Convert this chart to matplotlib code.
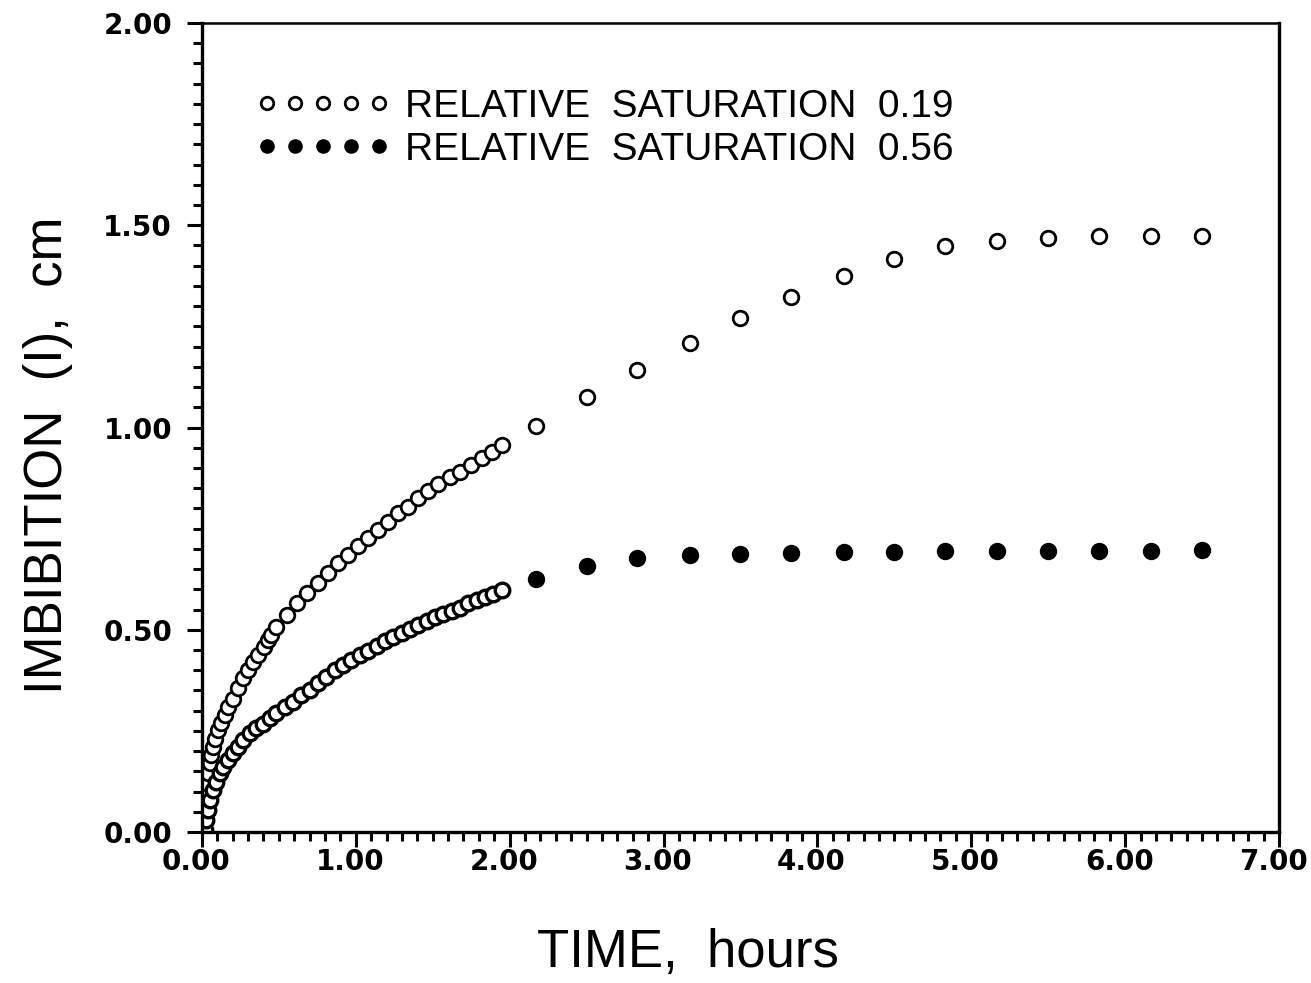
import matplotlib
matplotlib.use("Agg")
import matplotlib.pyplot as plt
import matplotlib.transforms as mtransforms
from matplotlib.lines import Line2D
from matplotlib.ticker import MultipleLocator, FormatStrFormatter
import numpy as np

# relative saturation 0.19 (open circles)
t_low_sat = [0.007, 0.007, 0.007, 0.018, 0.028, 0.039, 0.050, 0.061, 0.072, 0.083,
             0.104, 0.126, 0.148, 0.169, 0.202, 0.234, 0.267, 0.299, 0.332, 0.365,
             0.402, 0.430, 0.451, 0.484, 0.555, 0.620, 0.686, 0.755, 0.820, 0.885,
             0.951, 1.016, 1.081, 1.146, 1.211, 1.276, 1.341, 1.406, 1.471, 1.536,
             1.613, 1.678, 1.749, 1.818, 1.883, 1.949,
             2.17, 2.50, 2.83, 3.17, 3.50, 3.83, 4.17, 4.50, 4.83, 5.17, 5.50, 5.83, 6.17, 6.50]
i_low_sat = [0.005, 0.030, 0.063, 0.096, 0.120, 0.145, 0.170, 0.190, 0.211, 0.231,
             0.252, 0.269, 0.289, 0.309, 0.330, 0.355, 0.380, 0.400, 0.421, 0.438,
             0.458, 0.475, 0.487, 0.506, 0.536, 0.567, 0.590, 0.615, 0.640, 0.664,
             0.685, 0.707, 0.728, 0.747, 0.767, 0.788, 0.804, 0.825, 0.844, 0.860,
             0.877, 0.891, 0.907, 0.924, 0.940, 0.957,
             1.004, 1.075, 1.142, 1.209, 1.271, 1.323, 1.375, 1.417, 1.449, 1.461,
             1.468, 1.473, 1.473, 1.473]

# relative saturation 0.56 (filled circles)
t_high_sat = [0.018, 0.028, 0.039, 0.050, 0.072, 0.093, 0.115, 0.137, 0.169, 0.202,
              0.234, 0.267, 0.311, 0.354, 0.397, 0.441, 0.484, 0.538, 0.592, 0.647,
              0.701, 0.755, 0.809, 0.864, 0.918, 0.972, 1.026, 1.081, 1.135, 1.189,
              1.243, 1.298, 1.352, 1.406, 1.460, 1.515, 1.569, 1.623, 1.678, 1.732,
              1.786, 1.840, 1.895, 1.949,
              2.17, 2.50, 2.83, 3.17, 3.50, 3.83, 4.17, 4.50, 4.83, 5.17, 5.50, 5.83, 6.17, 6.50]
i_high_sat = [0.005, 0.030, 0.054, 0.079, 0.104, 0.124, 0.145, 0.161, 0.178, 0.195,
              0.211, 0.227, 0.244, 0.256, 0.268, 0.281, 0.293, 0.310, 0.322, 0.339,
              0.351, 0.368, 0.384, 0.400, 0.413, 0.425, 0.438, 0.448, 0.460, 0.473,
              0.483, 0.491, 0.501, 0.512, 0.522, 0.531, 0.539, 0.547, 0.555, 0.565,
              0.574, 0.580, 0.588, 0.598,
              0.625, 0.658, 0.677, 0.685, 0.687, 0.690, 0.692, 0.692, 0.695, 0.695,
              0.695, 0.695, 0.695, 0.697]

legend_labels = ["RELATIVE  SATURATION  0.19", "RELATIVE  SATURATION  0.56"]

plt.rcParams['font.family'] = ['Liberation Sans', 'DejaVu Sans']

fig = plt.figure(figsize=(13.11, 9.83), dpi=100)
ax = fig.add_axes([0.154, 0.1536, 0.8216, 0.823])

ax.plot(t_low_sat, i_low_sat, linestyle='none', marker='o', markersize=10.5,
        markerfacecolor='white', markeredgecolor='black', markeredgewidth=2.0)

t2 = np.array(t_high_sat)
i2 = np.array(i_high_sat)
dense = t2 < 2.05
# the closely spaced early readings print as overlapping rings in the original
ax.plot(t2[dense], i2[dense], linestyle='none', marker='o', markersize=10.5,
        markerfacecolor='white', markeredgecolor='black', markeredgewidth=2.4)
ax.plot(t2[~dense], i2[~dense], linestyle='none', marker='o', markersize=11,
        markerfacecolor='black', markeredgecolor='black', markeredgewidth=1.5)

ax.set_xlim(0, 7)
ax.set_ylim(0, 2)
ax.xaxis.set_major_locator(MultipleLocator(1))
ax.xaxis.set_minor_locator(MultipleLocator(0.1))
ax.yaxis.set_major_locator(MultipleLocator(0.5))
ax.yaxis.set_minor_locator(MultipleLocator(0.05))
ax.xaxis.set_major_formatter(FormatStrFormatter('%.2f'))
ax.yaxis.set_major_formatter(FormatStrFormatter('%.2f'))

ax.tick_params(which='major', direction='out', length=10.5, width=2.2,
               labelsize=20, top=False, right=False)
ax.tick_params(which='minor', direction='out', length=6.5, width=2.2,
               top=False, right=False)
ax.tick_params(axis='x', which='major', pad=1)
ax.tick_params(axis='y', which='major', pad=11)

# x labels sit a little left of their ticks in the original
shift = mtransforms.ScaledTranslation(-6 / 100, 0, fig.dpi_scale_trans)
for lab in ax.get_xticklabels():
    lab.set_transform(lab.get_transform() + shift)
for lab in ax.get_xticklabels() + ax.get_yticklabels():
    lab.set_fontweight('bold')
    lab.set_family('DejaVu Sans')

for side in ['left', 'bottom', 'right']:
    ax.spines[side].set_linewidth(2.4)
ax.spines['top'].set_linewidth(1.8)

ax.set_xlabel('TIME,  hours', fontsize=38)
ax.set_ylabel('IMBIBITION  (I),  cm', fontsize=38)
ax.xaxis.set_label_coords(0.451, -0.149)
ax.yaxis.set_label_coords(-0.143, 0.466)
ax.xaxis.label.set_verticalalignment('center')
ax.yaxis.label.set_verticalalignment('center')

handles = [
    Line2D([], [], linestyle='none', marker='o', markersize=9,
           markerfacecolor='white', markeredgecolor='black', markeredgewidth=2.0),
    Line2D([], [], linestyle='none', marker='o', markersize=9,
           markerfacecolor='black', markeredgecolor='black', markeredgewidth=1.5),
]
ax.legend(handles, legend_labels, loc='upper left', bbox_to_anchor=(0.050, 0.919),
          numpoints=5, handlelength=3.48, handletextpad=0.35, labelspacing=0.18,
          borderpad=0, borderaxespad=0, frameon=False, fontsize=28)

fig.savefig('out.png', dpi=100)
